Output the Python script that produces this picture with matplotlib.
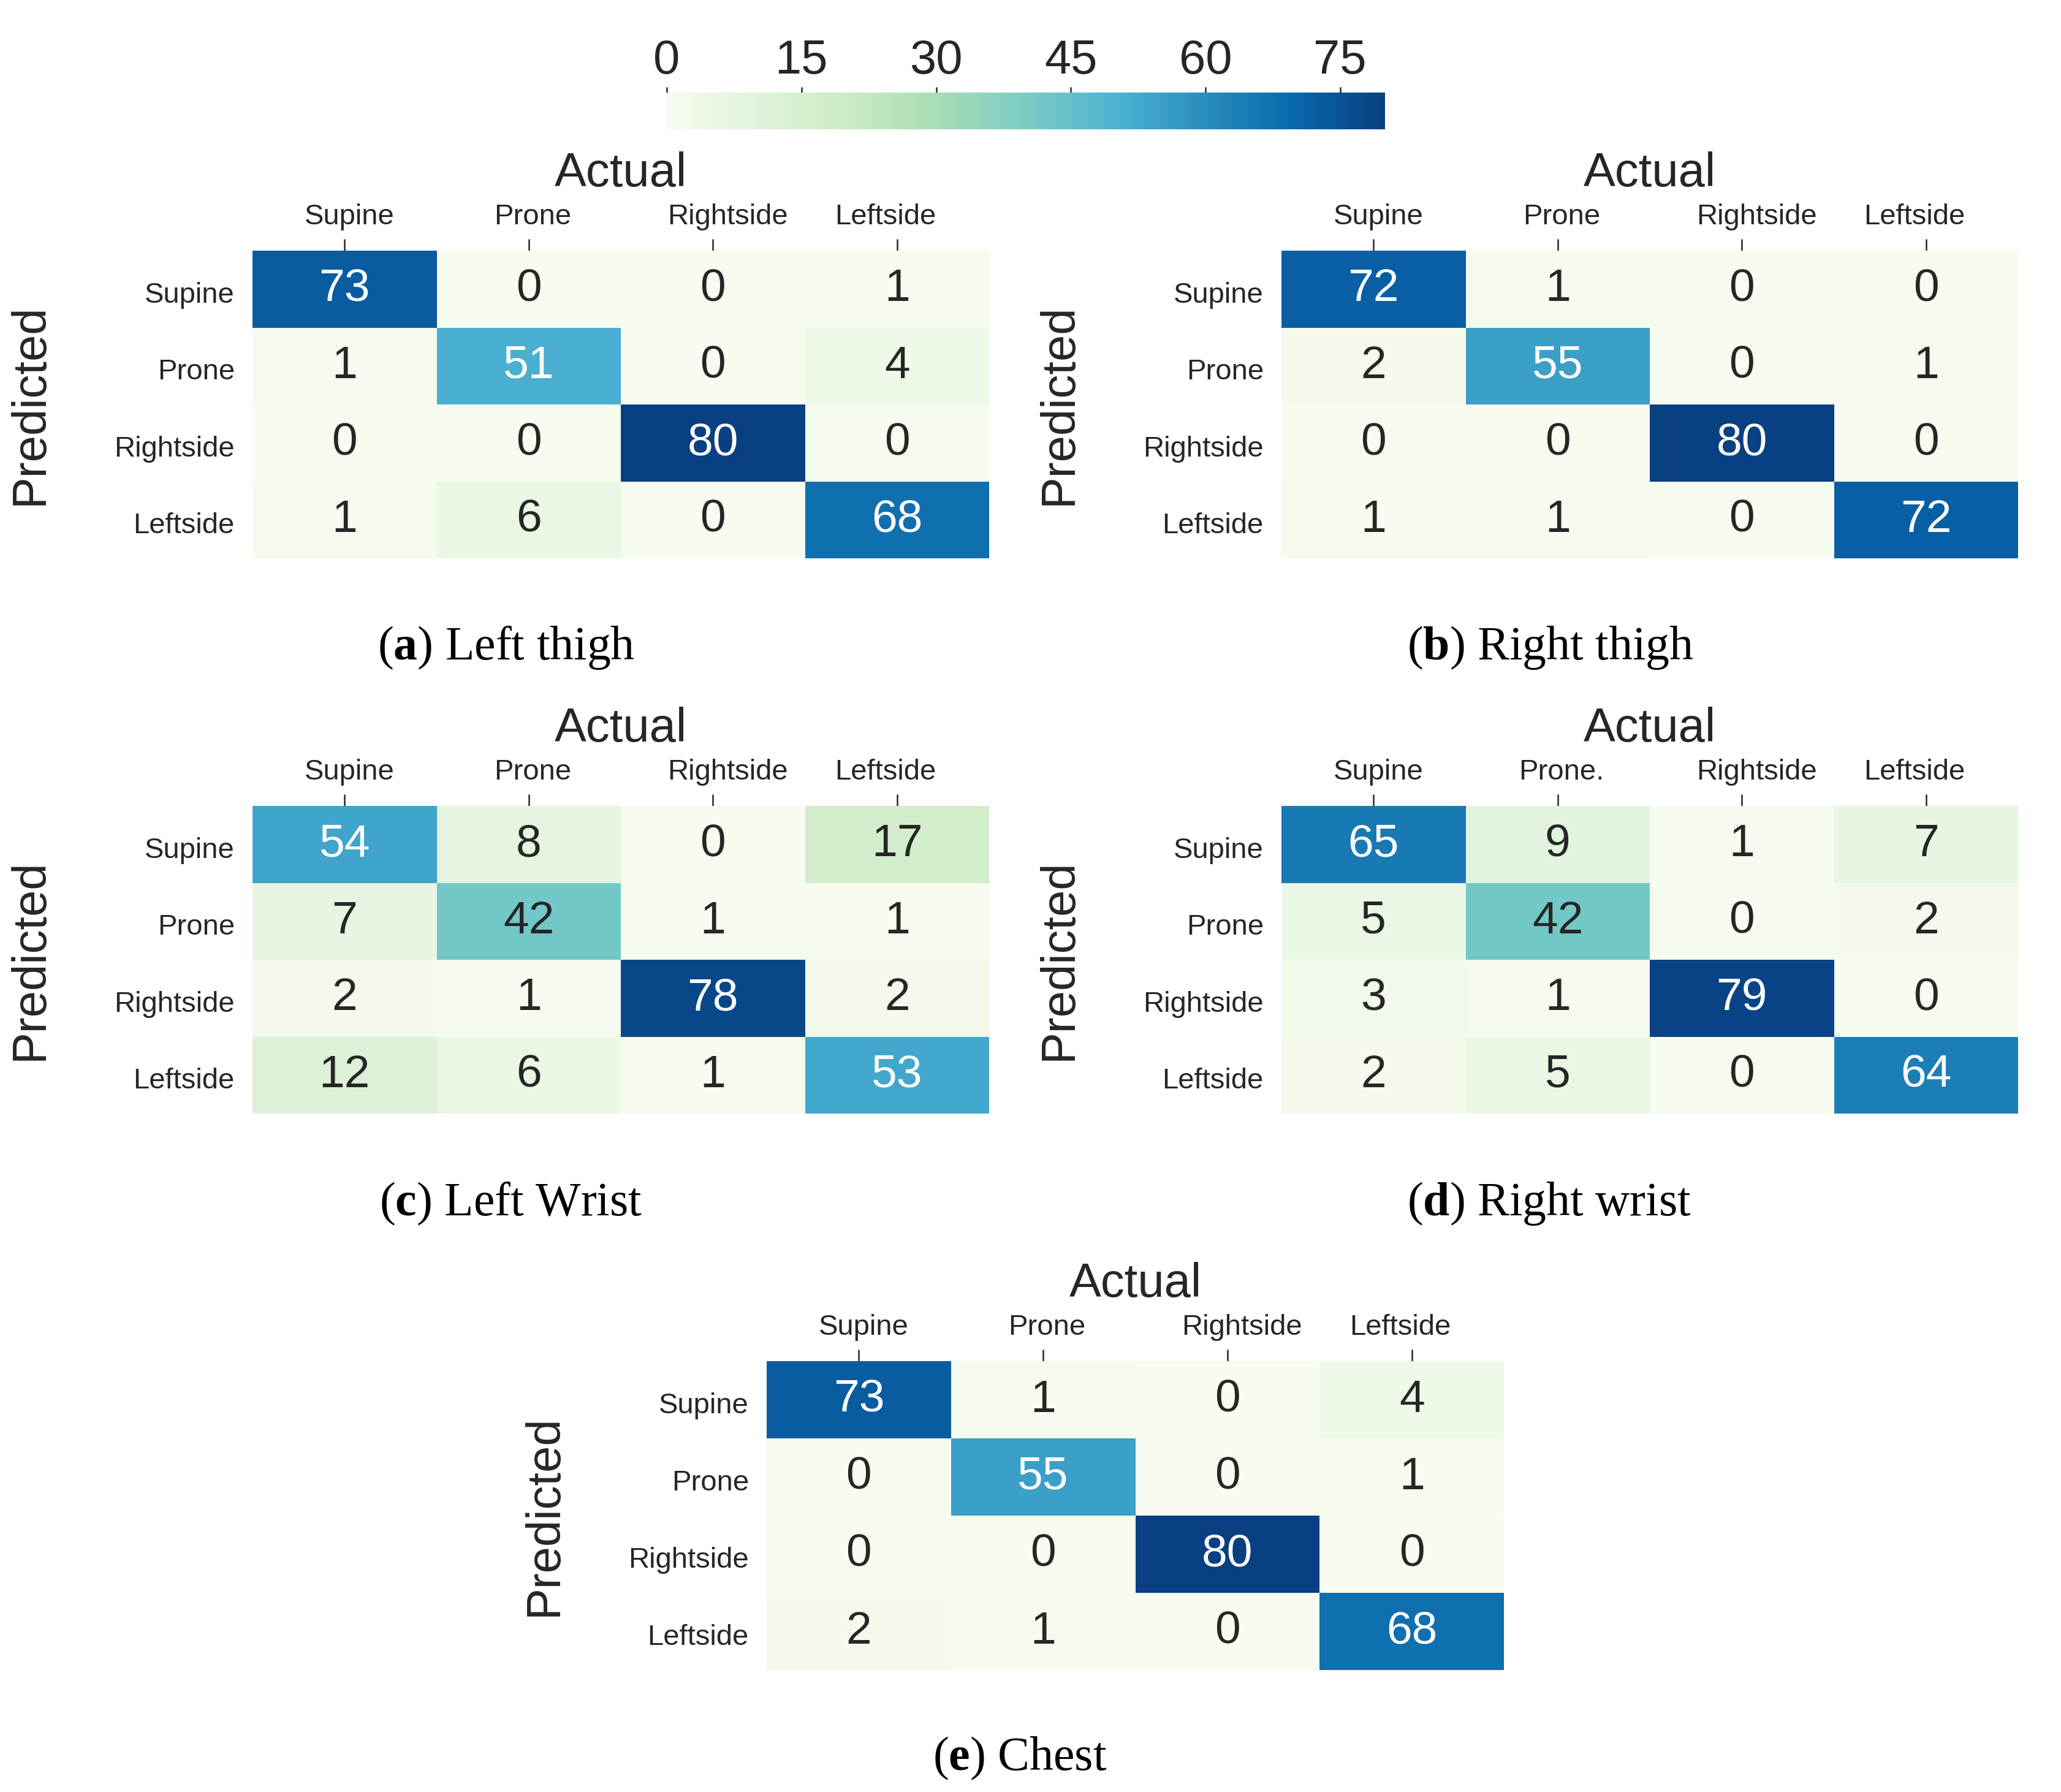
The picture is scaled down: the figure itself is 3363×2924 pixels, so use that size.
import numpy as np
import matplotlib
matplotlib.use('Agg')
import matplotlib.pyplot as plt
import matplotlib.transforms as mtransforms
import seaborn as sns

# confusion matrices (rows = predicted, cols = actual)
labels = ['Supine', 'Prone', 'Rightside', 'Leftside']
labels_d = ['Supine', 'Prone.', 'Rightside', 'Leftside']

left_thigh = [[73, 0, 0, 1], [1, 51, 0, 4], [0, 0, 80, 0], [1, 6, 0, 68]]
right_thigh = [[72, 1, 0, 0], [2, 55, 0, 1], [0, 0, 80, 0], [1, 1, 0, 72]]
left_wrist = [[54, 8, 0, 17], [7, 42, 1, 1], [2, 1, 78, 2], [12, 6, 1, 53]]
right_wrist = [[65, 9, 1, 7], [5, 42, 0, 2], [3, 1, 79, 0], [2, 5, 0, 64]]
chest = [[73, 1, 0, 4], [0, 55, 0, 1], [0, 0, 80, 0], [2, 1, 0, 68]]

captions = ['a', 'b', 'c', 'd', 'e']
caption_text = ['Left thigh', 'Right thigh', 'Left Wrist', 'Right wrist', 'Chest']
cbar_ticks = [0, 15, 30, 45, 60, 75]

sns.set_style('white')
plt.rcParams['font.family'] = ['Liberation Sans', 'DejaVu Sans']
plt.rcParams['mathtext.fontset'] = 'custom'
plt.rcParams['mathtext.rm'] = 'Liberation Serif'
plt.rcParams['mathtext.bf'] = 'Liberation Serif:bold'

DPI = 200
W, H = 3363, 2924
fig = plt.figure(figsize=(W / DPI, H / DPI), dpi=DPI)


def px_axes(x0, y0, x1, y1):
    return fig.add_axes([x0 / W, 1 - y1 / H, (x1 - x0) / W, (y1 - y0) / H])


# heatmap boxes in pixels (left, top, right, bottom)
boxes = [(412, 409, 1614, 911), (2091, 409, 3293, 911),
         (412, 1315, 1614, 1817), (2091, 1315, 3293, 1817),
         (1251, 2221, 2454, 2725)]
cap_pos = [(826, 1076), (2530, 1076), (833, 1983), (2528, 1983), (1664, 2888)]
mats = [left_thigh, right_thigh, left_wrist, right_wrist, chest]
xlabs = [labels, labels, labels, labels_d, labels]
# the column labels sit a little off the tick marks in the original
xlab_shift = [8, 6, 24, -19]

for i, (m, box) in enumerate(zip(mats, boxes)):
    ax = px_axes(*box)
    sns.heatmap(np.array(m), ax=ax, cmap='GnBu', vmin=0, vmax=80, cbar=False,
                annot=True, fmt='d', annot_kws={'size': 27},
                xticklabels=xlabs[i], yticklabels=labels)
    ax.xaxis.tick_top()
    ax.tick_params(axis='x', length=6.8, width=0.9, pad=5, labelsize=17,
                   colors='#262626', bottom=False, top=True)
    ax.tick_params(axis='y', length=0, pad=10.5, labelsize=17, colors='#262626')
    for lab, dx in zip(ax.get_xticklabels(), xlab_shift):
        lab.set_rotation(0)
        lab.set_transform(lab.get_transform() +
                          mtransforms.ScaledTranslation(dx / DPI, 0, fig.dpi_scale_trans))
    for lab in ax.get_yticklabels():
        lab.set_rotation(0)
        lab.set_transform(lab.get_transform() +
                          mtransforms.ScaledTranslation(0, -10 / DPI, fig.dpi_scale_trans))
    ax.text(0.5, 1 + 105 / 502, 'Actual', transform=ax.transAxes,
            ha='center', va='baseline', fontsize=28, color='#262626')
    ax.text(-363 / 1202, 0.5, 'Predicted', transform=ax.transAxes,
            ha='center', va='center', rotation=90, fontsize=28, color='#262626')
    cx, cy = cap_pos[i]
    fig.text(cx / W, 1 - cy / H, r'($\mathbf{%s}$) %s' % (captions[i], caption_text[i]),
             ha='center', va='baseline', fontsize=28, family='Liberation Serif',
             color='black')

# shared colorbar
cax = px_axes(1088, 151, 2260, 211)
norm = matplotlib.colors.Normalize(vmin=0, vmax=80)
cb = fig.colorbar(matplotlib.cm.ScalarMappable(norm=norm, cmap='GnBu'),
                  cax=cax, orientation='horizontal', ticks=cbar_ticks)
cb.outline.set_visible(False)
cax.xaxis.set_ticks_position('top')
cax.xaxis.set_label_position('top')
cax.tick_params(length=3.3, width=0.9, pad=2, labelsize=28, colors='#262626')

fig.savefig('out.png', dpi=DPI)
